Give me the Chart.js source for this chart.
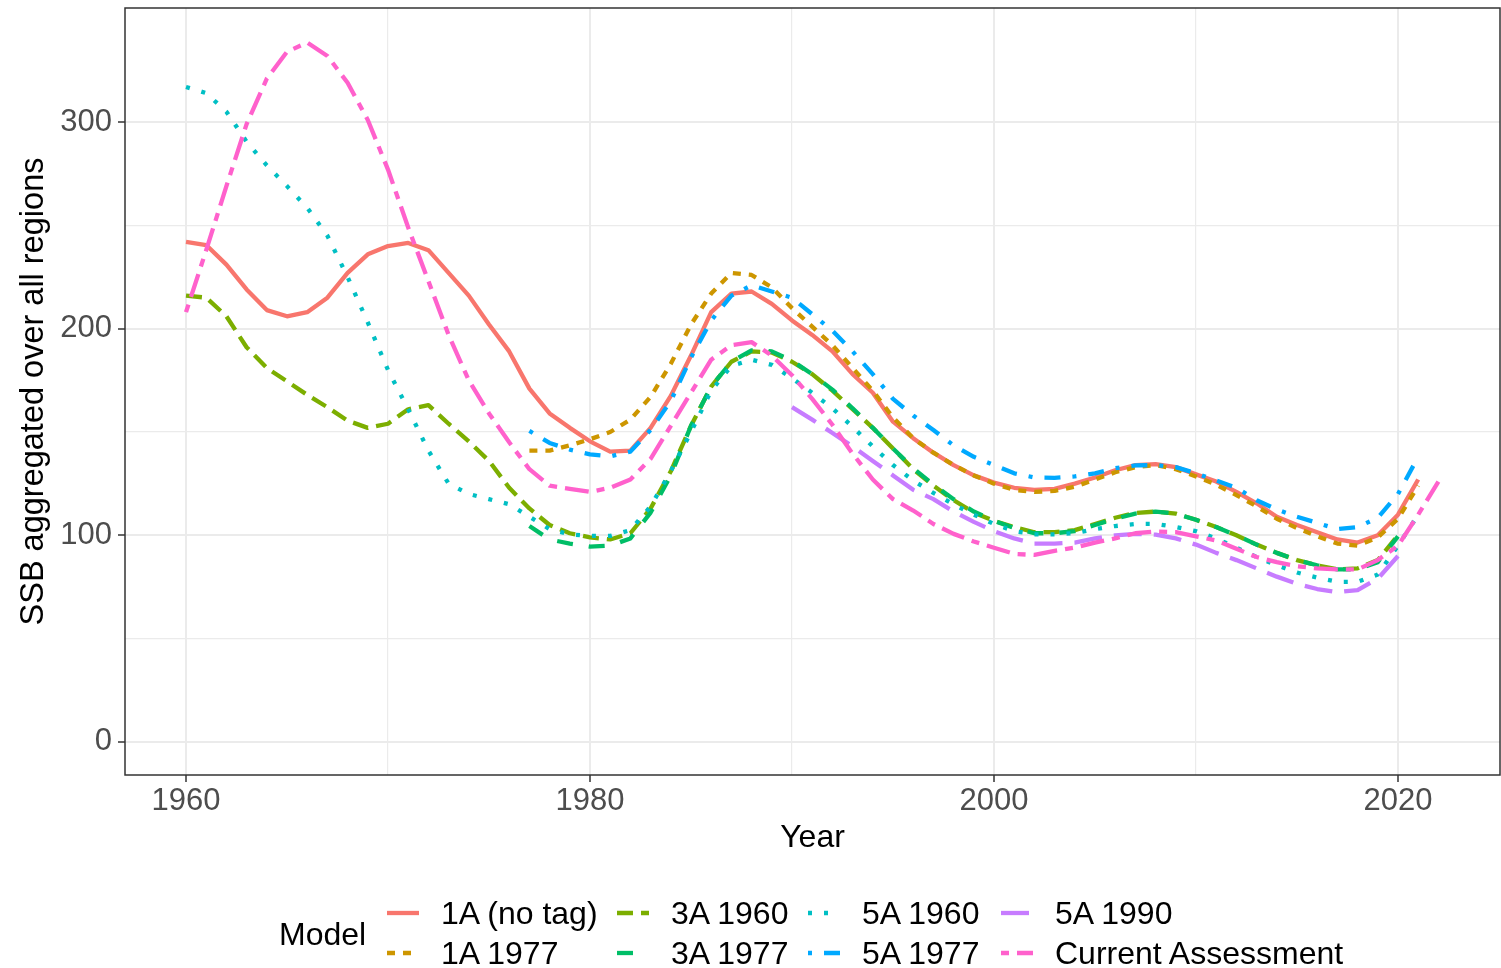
<!DOCTYPE html>
<html>
<head>
<meta charset="utf-8">
<script src="https://cdn.jsdelivr.net/npm/chart.js@4.4.1/dist/chart.umd.min.js"></script>
<style>
html,body{margin:0;padding:0;background:#fff;}
#wrap{position:relative;width:1501px;height:968px;overflow:hidden;}
#c{position:absolute;left:0;top:0;}
.lg{position:absolute;font-family:"Liberation Sans",Arial,sans-serif;font-size:32px;color:#000;line-height:36px;height:36px;white-space:nowrap;}
svg.key{position:absolute;overflow:visible;}
</style>
</head>
<body>
<div id="wrap"><canvas id="c" width="1501" height="968"></canvas><div id="legend"></div></div>
<script>
// ---------- data ----------
const years = [1960,1961,1962,1963,1964,1965,1966,1967,1968,1969,
               1970,1971,1972,1973,1974,1975,1976,1977,1978,1979,
               1980,1981,1982,1983,1984,1985,1986,1987,1988,1989,
               1990,1991,1992,1993,1994,1995,1996,1997,1998,1999,
               2000,2001,2002,2003,2004,2005,2006,2007,2008,2009,
               2010,2011,2012,2013,2014,2015,2016,2017,2018,2019,
               2020,2021,2022];

const ssb1A_noTag = [242,240.5,231,219,209,206,208,215,227,236,
  240,241.5,238,227,216,202,189,171,159,152,
  145.5,140.5,141,152,167.5,187,208,217,218,212,
  204,197,189,178,169,155,147,140,134,129,
  125.5,123,122,122.5,125,128,131.5,134,134.5,133,
  129.5,126,121,115.5,109,105,101.5,98,96.5,100,
  110,127,null];

const ssb1A_1977 = [null,null,null,null,null,null,null,null,null,null,
  null,null,null,null,null,null,null,141,141,143.5,
  146.5,150,156,167,183,202,217,227,226,220,
  210,201,192,181,170,157,147,140,134,129,
  125,122,121,121.5,123.5,127,130.5,133,134,132,
  128.5,124.5,119.5,114,108,103.5,99.5,96,95,99,
  108,124,null];

const ssb3A_1960 = [216,215,206,191,181,174.5,168,162,155.5,152,
  154,161,163,154,145.5,136,123,113,105,101,
  99,98,101,113,131,153,172,184,189,188.5,
  184,178,170,161,152,142,132,124,117,111,
  107,104,101.5,101.5,102.5,105.5,108.5,110.8,111.5,110.5,
  107.5,104,100,95.5,91.5,88,85.5,83.5,84,88,
  100,null,null];

const ssb3A_1977 = [null,null,null,null,null,null,null,null,null,null,
  null,null,null,null,null,null,null,104.5,98,96,
  94.5,95,98.5,111,129,153,172,184,189.5,189,
  184.5,178,170.5,161.5,152,142,132.5,124.5,117.5,111.5,
  107,103.5,101,101,102,105,108,110.5,111.5,110.5,
  107.5,104,100,95.5,91.5,88,85.5,83.5,83.5,87,
  99.5,null,null];

const ssb5A_1960 = [317,314,305,290.5,279,269,258.5,245,225,203,
  180,161,141,125,120,117.5,115,109,103,100.5,
  99.7,99.7,102.5,114,131,150,170,182,185,182.5,
  176,169,161.5,152.5,143,134,126.5,120.5,115,110,
  105.5,102,100.5,100.5,101,103,104.5,105.5,105.5,104,
  102,98.5,94,89.5,85.5,82,79.5,77.5,77.5,81,
  95,110,null];

const ssb5A_1977 = [null,null,null,null,null,null,null,null,null,null,
  null,null,null,null,null,null,null,150.5,144.7,141.5,
  139.2,138.2,140.5,151,165,186,204,216,221,218,
  215,207,199,189,178,166,158,151,143.5,138,
  134,130,128,127.8,128.5,130,132.5,133.8,134,133,
  130,126.5,123,117,112.5,109,106,103,104,108.5,
  120,138,null];

const ssb5A_1990 = [null,null,null,null,null,null,null,null,null,null,
  null,null,null,null,null,null,null,null,null,null,
  null,null,null,null,null,null,null,null,null,null,
  162,156,149.5,143,136,129,122,117.5,111.5,106.5,
  102,98.5,96,96,96.5,98.5,100,100.7,100.3,98.5,
  95.5,91.5,88,84,80,76.5,74,72.5,73.5,79,
  90,null,null];

const ssbCurrent = [208,238,269,299,321,334,338.5,332,319,301,
  277,249,223,197,175,159,145,132,124,122.5,
  121,123,127,137,153,169,185,192,193.5,187,
  177.5,166,153.5,139.5,127,117.5,112,105.5,100.7,97,
  94,91,90.5,92.5,94,96.5,98.5,101,101.8,101.5,
  99.5,97.5,93.5,89.5,87,85,84,83.5,83.5,88,
  95,110,126];

const seriesNames = ['1A (no tag)','1A 1977','3A 1960','3A 1977','5A 1960','5A 1977','5A 1990','Current Assessment'];
const seriesValues = [ssb1A_noTag, ssb1A_1977, ssb3A_1960, ssb3A_1977, ssb5A_1960, ssb5A_1977, ssb5A_1990, ssbCurrent];

const xTickValues = [1960,1970,1980,1990,2000,2010,2020];
const xTickLabels = ['1960','','1980','','2000','','2020'];
const yTickValues = [0,50,100,150,200,250,300];
const yTickLabels = ['0','','100','','200','','300'];

// ---------- styles ----------
const seriesColors = ['#F8766D','#CD9600','#7CAE00','#00BE67','#00BFC4','#00A9FF','#C77CFF','#FF61CC'];
const seriesDashes = [[],[8,8],[16,8],[16,16],[4,12],[4,12,16,12],[28,12],[8,8,24,8]];
const FONT = '"Liberation Sans", Arial, sans-serif';

const datasets = seriesNames.map((name, i) => ({
  label: name,
  data: years.map((yr, j) => ({x: yr, y: seriesValues[i][j]})).filter(p => p.y !== null),
  borderColor: seriesColors[i],
  backgroundColor: seriesColors[i],
  borderWidth: 4.3,
  borderDash: seriesDashes[i],
  borderCapStyle: 'butt',
  borderJoinStyle: 'round',
  pointRadius: 0,
  pointHoverRadius: 0,
  fill: false,
  tension: 0,
  order: seriesNames.length - i
}));

const panelBorder = {
  id: 'panelBorder',
  afterDatasetsDraw(chart) {
    const {ctx, chartArea: a} = chart;
    ctx.save();
    ctx.strokeStyle = '#333333';
    ctx.lineWidth = 1.5;
    ctx.strokeRect(a.left, a.top, a.right - a.left, a.bottom - a.top);
    ctx.restore();
  }
};

new Chart(document.getElementById('c'), {
  type: 'line',
  data: {datasets},
  plugins: [panelBorder],
  options: {
    responsive: false,
    animation: false,
    devicePixelRatio: 1,
    layout: {padding: {left: 0, right: 1, top: 8, bottom: 108}},
    plugins: {legend: {display: false}, tooltip: {enabled: false}},
    scales: {
      x: {
        type: 'linear',
        min: 1956.98,
        max: 2025.05,
        afterBuildTicks: s => { s.ticks = xTickValues.map(v => ({value: v})); },
        afterFit: s => { s.height = 85; s.paddingLeft = 0; s.paddingRight = 0; },
        border: {display: false},
        grid: {
          color: '#EBEBEB',
          lineWidth: c => (c.tick && xTickLabels[xTickValues.indexOf(c.tick.value)] !== '') ? 2 : 1.2,
          tickColor: c => (c.tick && xTickLabels[xTickValues.indexOf(c.tick.value)] !== '') ? '#333333' : 'rgba(0,0,0,0)',
          tickLength: 7,
          tickWidth: 1.5
        },
        ticks: {
          autoSkip: false, maxRotation: 0,
          callback: (v) => { const k = xTickValues.indexOf(v); return k >= 0 ? xTickLabels[k] : ''; },
          color: '#4D4D4D',
          font: {family: FONT, size: 31},
          padding: 1
        },
        title: {display: true, text: 'Year', color: '#000', font: {family: FONT, size: 32}, padding: {top: 0, bottom: 3}}
      },
      y: {
        min: -16,
        max: 355.2,
        afterBuildTicks: s => { s.ticks = yTickValues.map(v => ({value: v})); },
        afterFit: s => { s.width = 125; s.paddingTop = 0; s.paddingBottom = 0; },
        border: {display: false},
        grid: {
          color: '#EBEBEB',
          lineWidth: c => (c.tick && yTickLabels[yTickValues.indexOf(c.tick.value)] !== '') ? 2 : 1.2,
          tickColor: c => (c.tick && yTickLabels[yTickValues.indexOf(c.tick.value)] !== '') ? '#333333' : 'rgba(0,0,0,0)',
          tickLength: 7,
          tickWidth: 1.5
        },
        ticks: {
          autoSkip: false,
          callback: (v) => { const k = yTickValues.indexOf(v); return k >= 0 ? yTickLabels[k] : ''; },
          color: '#4D4D4D',
          font: {family: FONT, size: 31},
          padding: 6
        },
        title: {display: true, text: 'SSB aggregated over all regions', color: '#000', font: {family: FONT, size: 32.5}, padding: {top: 15, bottom: 0}}
      }
    }
  }
});

// ---------- legend (HTML) ----------
const legend = document.getElementById('legend');
const legendKeyX = [387, 617, 808, 1001];
const legendTextX = [441, 671, 862, 1055];
const legendRowY = [913, 953];
const title = document.createElement('div');
title.className = 'lg';
title.textContent = 'Model';
title.style.left = '279px';
title.style.top = (934 - 18) + 'px';
legend.appendChild(title);
seriesNames.forEach((name, i) => {
  const col = Math.floor(i / 2), row = i % 2;
  const cy = legendRowY[row];
  const svgNS = 'http://www.w3.org/2000/svg';
  const svg = document.createElementNS(svgNS, 'svg');
  svg.setAttribute('class', 'key');
  svg.setAttribute('width', '32');
  svg.setAttribute('height', '10');
  svg.style.left = legendKeyX[col] + 'px';
  svg.style.top = (cy - 5) + 'px';
  const ln = document.createElementNS(svgNS, 'line');
  ln.setAttribute('x1', '0'); ln.setAttribute('x2', '32');
  ln.setAttribute('y1', '5'); ln.setAttribute('y2', '5');
  ln.setAttribute('stroke', seriesColors[i]);
  ln.setAttribute('stroke-width', '4.3');
  if (seriesDashes[i].length) ln.setAttribute('stroke-dasharray', seriesDashes[i].join(' '));
  svg.appendChild(ln);
  legend.appendChild(svg);
  const t = document.createElement('div');
  t.className = 'lg';
  t.textContent = name;
  t.style.left = legendTextX[col] + 'px';
  t.style.top = (cy - 18) + 'px';
  legend.appendChild(t);
});
</script>
</body>
</html>
